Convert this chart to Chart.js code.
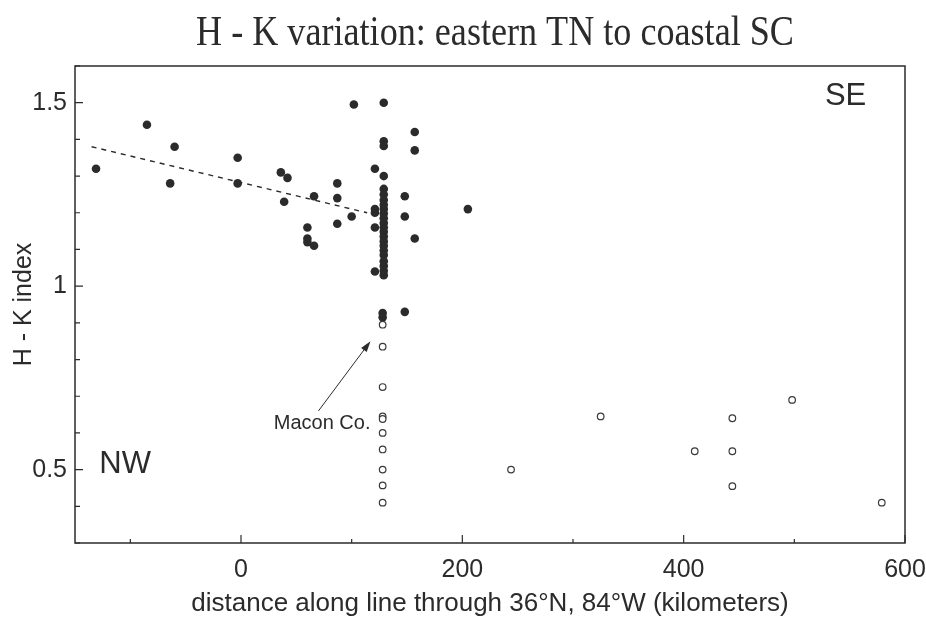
<!DOCTYPE html>
<html>
<head>
<meta charset="utf-8">
<script src="https://cdn.jsdelivr.net/npm/chart.js@4"></script>
<style>
  html, body { margin: 0; padding: 0; background: #fff; }
  #wrap { width: 926px; height: 630px; }
</style>
</head>
<body>
<div id="wrap"><canvas id="hkChart"></canvas></div>
<script>
// filled symbols: H - K index >= ~0.9
const filledDist = [-131, -85, -60, -64, -3, -3, 36, 42, 39, 66, 60, 60, 60, 66,
  87, 87, 87, 100, 102, 129, 157, 129, 129, 157, 121, 129, 148, 148, 157,
  121, 121, 121, 121, 205, 148, 128, 128,
  129, 129, 129, 129, 129, 129, 129, 129, 129, 129, 129, 129, 129, 129, 129, 129, 129, 129, 129];
const filledIndex = [1.32, 1.44, 1.38, 1.28, 1.35, 1.28, 1.31, 1.295, 1.23, 1.245, 1.16, 1.13, 1.12, 1.11,
  1.28, 1.24, 1.17, 1.19, 1.495, 1.50, 1.42, 1.395, 1.382, 1.37, 1.32, 1.30, 1.245, 1.19, 1.13,
  1.21, 1.20, 1.16, 1.04, 1.21, 0.93, 0.927, 0.915,
  1.265, 1.25, 1.235, 1.222, 1.21, 1.198, 1.185, 1.172, 1.16, 1.148, 1.135, 1.122, 1.11, 1.097, 1.085, 1.068, 1.055, 1.042, 1.03];

// open symbols
const openDist = [128, 128, 128, 128, 128, 128, 128, 128, 128, 128, 244, 325, 410, 444, 444, 444, 498, 579];
const openIndex = [0.895, 0.835, 0.725, 0.645, 0.638, 0.60, 0.555, 0.50, 0.457, 0.41, 0.50, 0.645, 0.55, 0.64, 0.55, 0.455, 0.69, 0.41];

// dashed trend line (NW part)
const trendDist = [-135, 114];
const trendIndex = [1.38, 1.20];

// Macon Co. arrow: tail -> head
const arrowDist = [70, 117];
const arrowIndex = [0.66, 0.85];

const xTicks = [-100, 0, 100, 200, 300, 400, 500, 600];
const xLabelled = [0, 200, 400, 600];
const yTicks = [0.3, 0.4, 0.5, 0.6, 0.7, 0.8, 0.9, 1, 1.1, 1.2, 1.3, 1.4, 1.5, 1.6];
const yLabelled = [0.5, 1, 1.5];

const titleText = 'H - K variation: eastern TN to coastal SC';
const ink = '#2b2b2b';
const sans = "'Liberation Sans', Arial, sans-serif";

const toPoints = (xs, ys) => xs.map((x, i) => ({ x: x, y: ys[i] }));

// title, frame, inward ticks, arrow and the text notes
const extras = {
  id: 'extras',
  afterDatasetsDraw(chart) {
    const { ctx, chartArea: a, scales: { x, y } } = chart;
    ctx.save();
    ctx.fillStyle = ink;
    ctx.strokeStyle = ink;

    // condensed serif title like the scan
    ctx.save();
    ctx.translate(495, 34);
    ctx.scale(0.86, 1);
    ctx.font = "42px 'Liberation Serif', 'Times New Roman', serif";
    ctx.textAlign = 'center';
    ctx.textBaseline = 'middle';
    ctx.fillText(titleText, 0, 0);
    ctx.restore();

    ctx.lineWidth = 1.5;
    ctx.strokeRect(a.left, a.top, a.right - a.left, a.bottom - a.top);

    ctx.lineWidth = 1.2;
    ctx.beginPath();
    xTicks.forEach(v => {
      const px = x.getPixelForValue(v);
      const len = xLabelled.includes(v) ? 8 : 4;
      ctx.moveTo(px, a.bottom);
      ctx.lineTo(px, a.bottom - len);
    });
    yTicks.forEach(v => {
      const py = y.getPixelForValue(v);
      const len = yLabelled.includes(v) ? 8 : 5;
      ctx.moveTo(a.left, py);
      ctx.lineTo(a.left + len, py);
    });
    ctx.stroke();

    // arrow
    const x0 = x.getPixelForValue(arrowDist[0]), y0 = y.getPixelForValue(arrowIndex[0]);
    const x1 = x.getPixelForValue(arrowDist[1]), y1 = y.getPixelForValue(arrowIndex[1]);
    const ang = Math.atan2(y1 - y0, x1 - x0);
    ctx.lineWidth = 1;
    ctx.beginPath();
    ctx.moveTo(x0, y0);
    ctx.lineTo(x1 - 8 * Math.cos(ang), y1 - 8 * Math.sin(ang));
    ctx.stroke();
    ctx.beginPath();
    ctx.moveTo(x1, y1);
    ctx.lineTo(x1 - 11 * Math.cos(ang) + 3.5 * Math.sin(ang), y1 - 11 * Math.sin(ang) - 3.5 * Math.cos(ang));
    ctx.lineTo(x1 - 11 * Math.cos(ang) - 3.5 * Math.sin(ang), y1 - 11 * Math.sin(ang) + 3.5 * Math.cos(ang));
    ctx.closePath();
    ctx.fill();

    ctx.textBaseline = 'middle';
    ctx.font = '20px ' + sans;
    ctx.textAlign = 'right';
    ctx.fillText('Macon Co.', x.getPixelForValue(117), y.getPixelForValue(0.627));

    ctx.font = '31px ' + sans;
    ctx.textAlign = 'left';
    ctx.fillText('NW', x.getPixelForValue(-128), y.getPixelForValue(0.515));
    ctx.textAlign = 'right';
    ctx.fillText('SE', x.getPixelForValue(565), y.getPixelForValue(1.518));
    ctx.restore();
  }
};

const hkConfig = {
  type: 'scatter',
  data: {
    datasets: [
      {
        data: toPoints(openDist, openIndex),
        pointRadius: 3.3,
        pointBorderWidth: 1.2,
        borderColor: '#3a3a3a',
        backgroundColor: '#fff'
      },
      {
        data: toPoints(filledDist, filledIndex),
        pointRadius: 4.3,
        pointBorderWidth: 0,
        borderColor: ink,
        backgroundColor: ink
      },
      {
        type: 'line',
        data: toPoints(trendDist, trendIndex),
        showLine: true,
        pointRadius: 0,
        borderColor: ink,
        borderWidth: 1.4,
        borderDash: [5, 5]
      }
    ]
  },
  options: {
    responsive: true,
    maintainAspectRatio: false,
    animation: false,
    layout: { padding: { top: 66, right: 21, bottom: 0, left: 0 } },
    plugins: {
      legend: { display: false },
      tooltip: { enabled: false },
      title: { display: false }
    },
    scales: {
      x: {
        type: 'linear',
        min: -150,
        max: 600,
        afterBuildTicks: s => { s.ticks = xTicks.map(v => ({ value: v })); },
        afterFit: s => { s.height = 87; s.paddingLeft = 0; s.paddingRight = 0; },
        grid: { display: false, drawTicks: false },
        border: { display: false },
        ticks: {
          color: ink,
          font: { family: sans, size: 25 },
          padding: 12,
          maxRotation: 0,
          autoSkip: false,
          callback: v => xLabelled.includes(v) ? String(v) : ''
        },
        title: {
          display: true,
          text: 'distance along line through 36°N, 84°W (kilometers)',
          color: ink,
          font: { family: sans, size: 26, lineHeight: 1.2 },
          padding: { top: 0, bottom: 11 }
        }
      },
      y: {
        type: 'linear',
        min: 0.3,
        max: 1.6,
        afterBuildTicks: s => { s.ticks = yTicks.map(v => ({ value: v })); },
        afterFit: s => { s.width = 75; s.paddingTop = 0; s.paddingBottom = 0; },
        grid: { display: false, drawTicks: false },
        border: { display: false },
        ticks: {
          color: ink,
          font: { family: sans, size: 25 },
          padding: 8,
          autoSkip: false,
          callback: v => yLabelled.includes(v) ? String(v) : ''
        },
        title: {
          display: true,
          text: 'H - K index',
          color: ink,
          font: { family: sans, size: 25, lineHeight: 1.2 },
          padding: { top: 9, bottom: 0 }
        }
      }
    }
  },
  plugins: [extras]
};

let hkChart;
window.addEventListener('DOMContentLoaded', () => {
  const ctx = document.getElementById('hkChart').getContext('2d');
  hkChart = new Chart(ctx, hkConfig);
});
</script>
</body>
</html>
